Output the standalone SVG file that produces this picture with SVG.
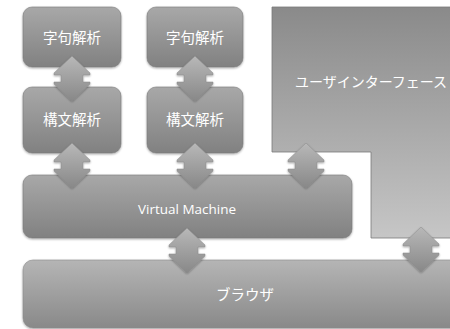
<svg xmlns="http://www.w3.org/2000/svg" width="450" height="329" viewBox="0 0 450 329">
<defs>
<linearGradient id="gBox" x1="0" y1="0" x2="0" y2="1">
<stop offset="0" stop-color="#a8a8a8"/>
<stop offset="1" stop-color="#818181"/>
</linearGradient>
<linearGradient id="gWide" x1="0" y1="0" x2="0" y2="1">
<stop offset="0" stop-color="#b5b5b5"/>
<stop offset="1" stop-color="#898989"/>
</linearGradient>
<linearGradient id="gUI" x1="0" y1="0" x2="0" y2="1">
<stop offset="0" stop-color="#8a8a8a"/>
<stop offset="1" stop-color="#c6c6c6"/>
</linearGradient>
<linearGradient id="gArrow" x1="0" y1="0" x2="0" y2="1">
<stop offset="0" stop-color="#b8b8b8"/>
<stop offset="1" stop-color="#888888"/>
</linearGradient>
<filter id="sh" x="-10%" y="-10%" width="120%" height="130%">
<feGaussianBlur in="SourceAlpha" stdDeviation="1.2"/>
<feOffset dy="1" result="b"/>
<feComponentTransfer><feFuncA type="linear" slope="0.35"/></feComponentTransfer>
<feMerge><feMergeNode/><feMergeNode in="SourceGraphic"/></feMerge>
</filter>
<path id="arr" d="M0,0 L18,17 L18,19 L11,19 L11,26 L18,26 L18,28 L0,45 L-18,28 L-18,26 L-11,26 L-11,19 L-18,19 L-18,17 Z"/>
</defs>
<style>
.box{fill:url(#gBox);stroke:#7a7a7a;stroke-width:0.6;filter:url(#sh)}
.wide{fill:url(#gWide);stroke:#8a8a8a;stroke-width:0.6;filter:url(#sh)}
.ui{fill:url(#gUI);stroke:#7a7a7a;stroke-width:0.8}
.lbl{fill:#ffffff;font-family:"Noto Sans CJK JP","Noto Sans",sans-serif;font-size:14.5px;text-anchor:middle}
.uil{fill:#ffffff;font-family:"Noto Sans CJK JP","Noto Sans",sans-serif;font-size:14px;text-anchor:middle}
.lat{fill:#ffffff;font-family:"Open Sans","Noto Sans",sans-serif;font-size:13.5px;text-anchor:middle}
.arrow use{fill:url(#gArrow);stroke:#8a8a8a;stroke-width:0.5;filter:url(#sh)}
</style>
<rect width="450" height="329" fill="#ffffff"/>
<g id="ui">
<path class="ui" d="M272,7 L452,7 L452,238 L371,238 L371,152 L272,152 Z"/>
<text class="uil" x="371" y="87">ユーザインターフェース</text>
</g>
<g id="lex1">
<rect class="box" x="23" y="7" width="98" height="60" rx="9"/>
<text class="lbl" x="72" y="43">字句解析</text>
</g>
<g id="lex2">
<rect class="box" x="147" y="7" width="96" height="60" rx="9"/>
<text class="lbl" x="195" y="43">字句解析</text>
</g>
<g id="parse1">
<rect class="box" x="23" y="87" width="98" height="66" rx="9"/>
<text class="lbl" x="72" y="125">構文解析</text>
</g>
<g id="parse2">
<rect class="box" x="147" y="87" width="96" height="66" rx="9"/>
<text class="lbl" x="195" y="125">構文解析</text>
</g>
<g id="vm">
<rect class="box" x="23" y="175" width="329" height="63" rx="9"/>
<text class="lat" x="187" y="214">Virtual Machine</text>
</g>
<g id="browser">
<rect class="wide" x="23" y="260" width="440" height="68" rx="10"/>
<text class="lbl" x="245" y="300">ブラウザ</text>
</g>
<g id="connectors" class="arrow">
<use href="#arr" x="72" y="56"/>
<use href="#arr" x="195" y="56"/>
<use href="#arr" x="72" y="143"/>
<use href="#arr" x="195" y="143"/>
<use href="#arr" x="306" y="143"/>
<use href="#arr" x="187" y="228"/>
<use href="#arr" x="421" y="227"/>
</g>
</svg>
